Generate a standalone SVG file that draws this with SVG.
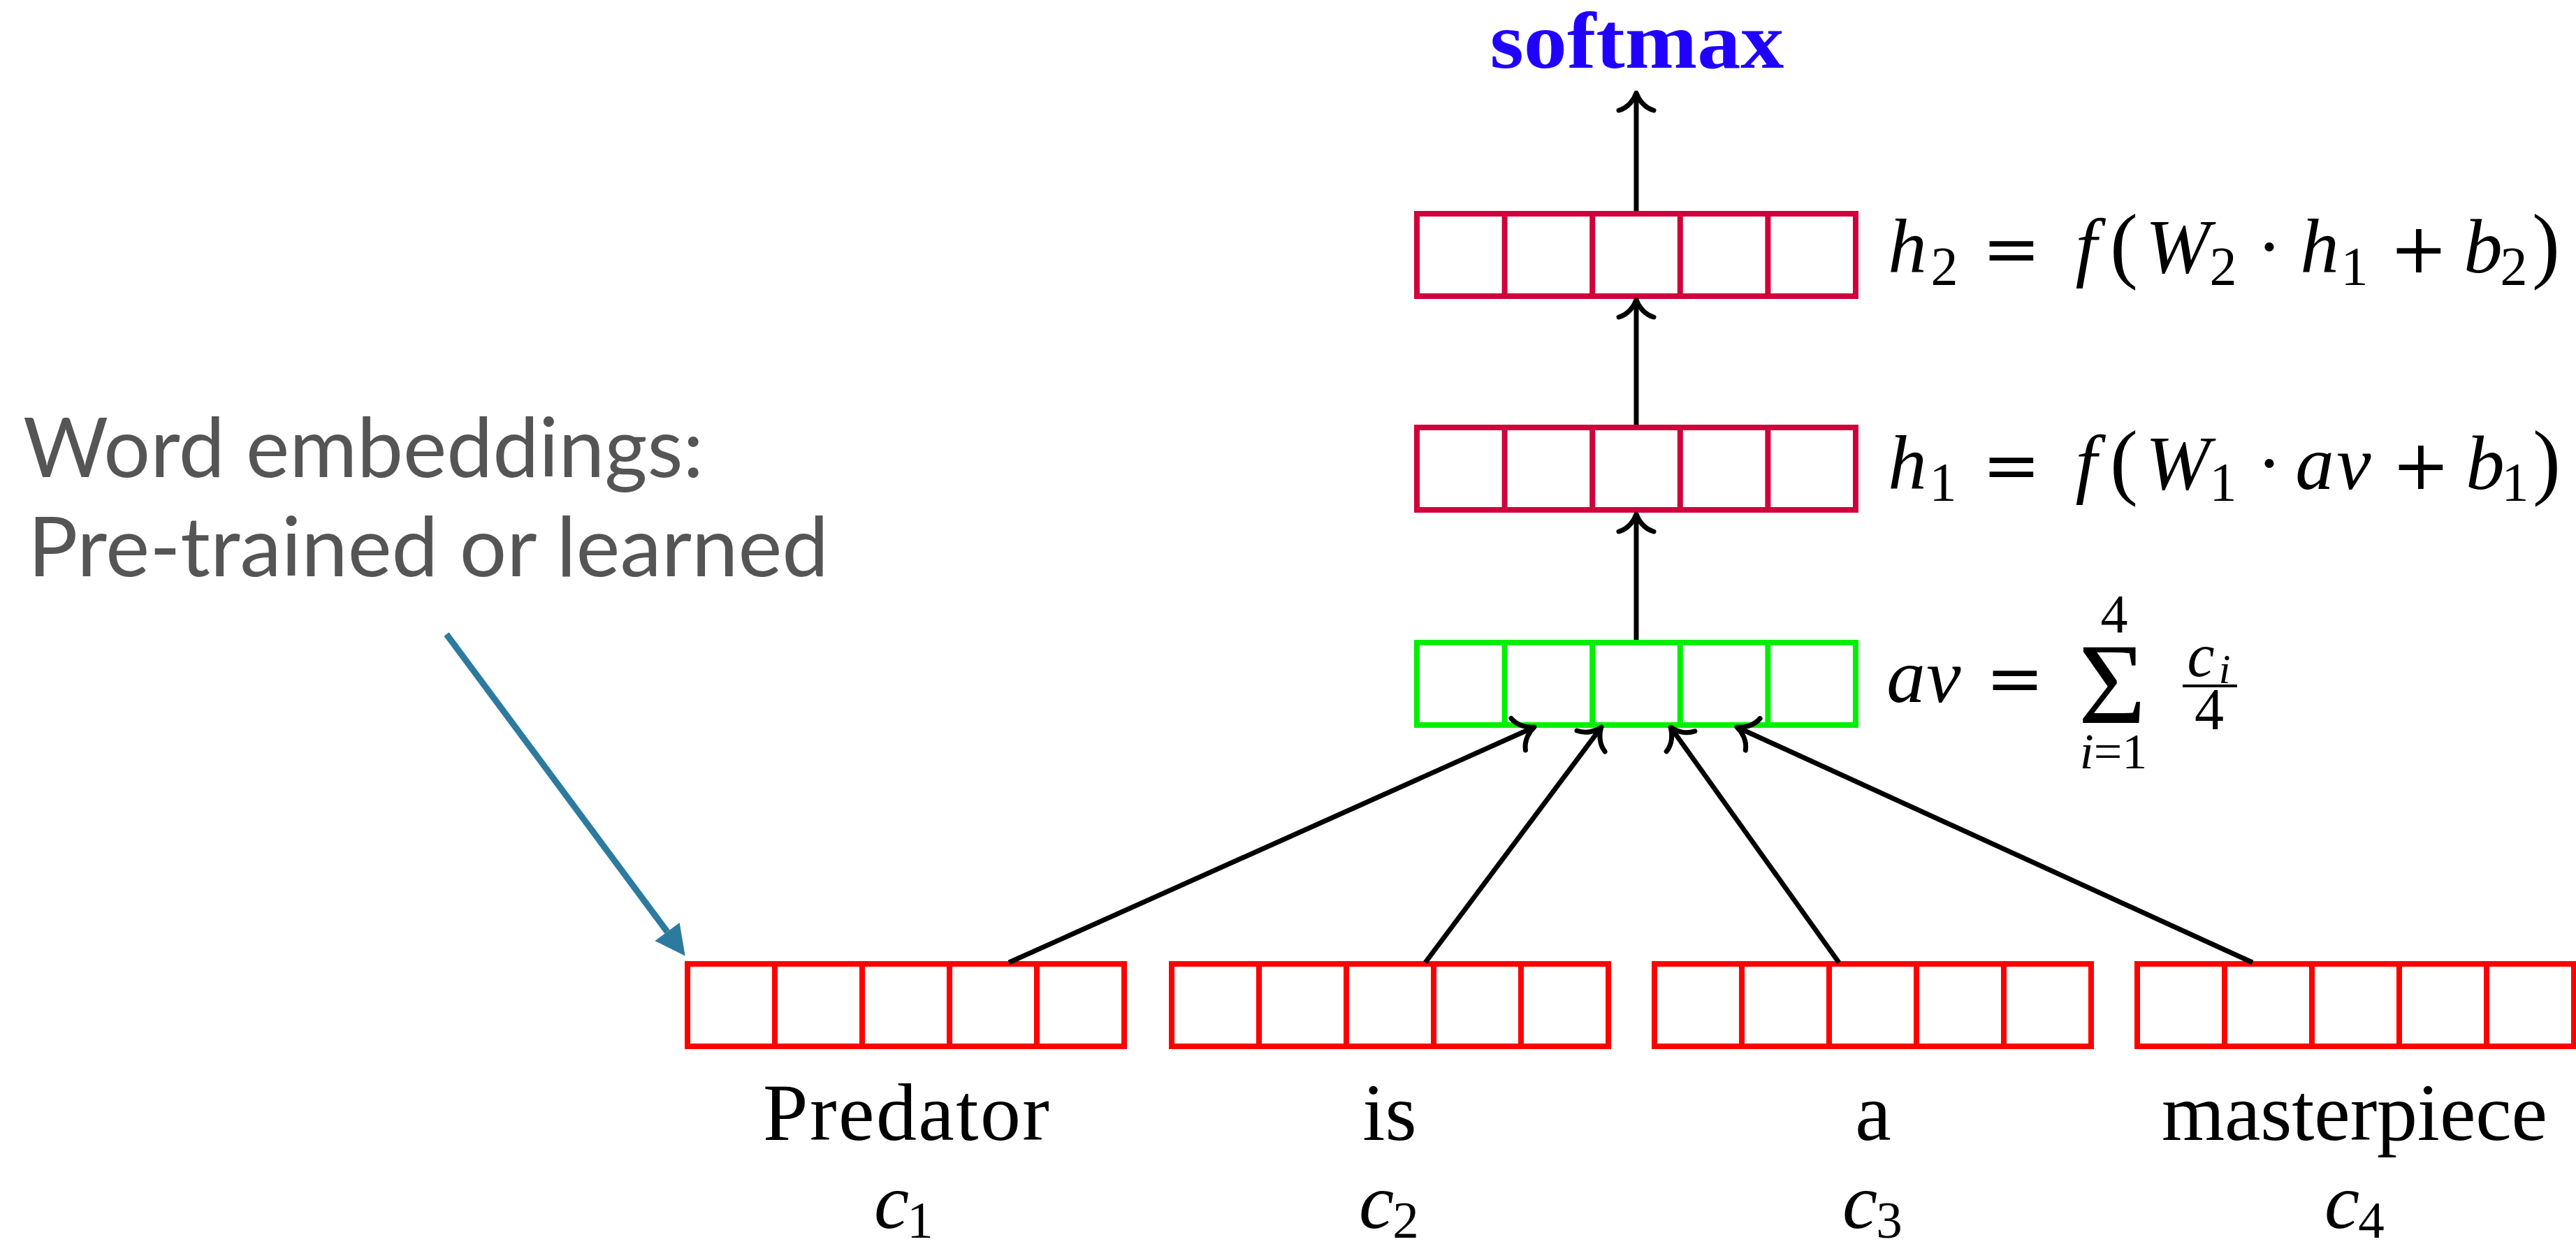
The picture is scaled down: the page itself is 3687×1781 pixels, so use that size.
<svg xmlns="http://www.w3.org/2000/svg" width="3687" height="1781" viewBox="0 0 3687 1781">
  <style>
    .cell { fill: none; stroke-width: 8; }
    .red { stroke: #ff0000; }
    .crim { stroke: #d0003c; }
    .grn { stroke: #00f000; }
    .conn { fill: none; stroke: #000; stroke-width: 7; marker-end: url(#tip); }
    .hint { fill: none; stroke: #2c7b9e; stroke-width: 9; marker-end: url(#ptr); }
    .m { font-family: "Liberation Serif", "DejaVu Serif", serif; font-style: italic; font-size: 111px; fill: #000; text-anchor: middle; }
    .r { font-style: normal; }
    .op { font-family: "DejaVu Serif", "Liberation Serif", serif; font-style: normal; font-size: 100px; }
    .sub { font-style: normal; font-size: 78px; }
    .ssub { font-size: 60px; }
    .word { font-family: "Liberation Serif", "DejaVu Serif", serif; font-size: 116px; fill: #000; text-anchor: middle; }
    .note { font-family: Lato, "Open Sans", "Liberation Sans", sans-serif; font-size: 118px; fill: #555555; }
    .head { font-family: "Liberation Serif", "DejaVu Serif", serif; font-weight: bold; font-size: 114px; fill: #2000ff; text-anchor: middle; }
  </style>
  <defs>
    <!-- curved open arrow tip, point at the path end -->
    <marker id="tip" markerUnits="userSpaceOnUse" viewBox="-34 -34 40 68" markerWidth="40" markerHeight="68" refX="0" refY="0" orient="auto" overflow="visible">
      <path d="M-25,-25 C-21,-11 -9,-3 0,0 C-9,3 -21,11 -25,25" fill="none" stroke="#000" stroke-width="7" stroke-linecap="round" stroke-linejoin="round"/>
    </marker>
    <!-- solid triangle head, base at the path end -->
    <marker id="ptr" markerUnits="userSpaceOnUse" viewBox="-2 -24 48 48" markerWidth="48" markerHeight="48" refX="0" refY="0" orient="auto" overflow="visible">
      <path d="M0,-22 L43,0 L0,22 Z" fill="#2c7b9e"/>
    </marker>
  </defs>

  <!-- output label -->
  <g id="softmax">
    <text class="head" x="2343" y="97" textLength="421" lengthAdjust="spacingAndGlyphs">softmax</text>
  </g>

  <!-- hidden layer 2 -->
  <g id="h2">
    <rect class="cell crim" x="2028" y="306" width="628" height="118"/>
    <path class="cell crim" d="M2153.6 306V424M2279.2 306V424M2404.8 306V424M2530.4 306V424"/>
  </g>
  <g id="h2-eq">
    <text class="m" x="2730" y="390">h</text>
    <text class="m sub" x="2783" y="407">2</text>
    <text class="m op" x="2879" y="390">=</text>
    <text class="m" x="2986" y="390">f</text>
    <text class="m r" x="3040" y="390" style="font-size:120px">(</text>
    <text class="m" x="3117" y="390">W</text>
    <text class="m sub" x="3182" y="407">2</text>
    <text class="m r" x="3248" y="390">·</text>
    <text class="m" x="3320" y="390">h</text>
    <text class="m sub" x="3370" y="407">1</text>
    <text class="m op" x="3462" y="390">+</text>
    <text class="m" x="3554" y="390">b</text>
    <text class="m sub" x="3598" y="407">2</text>
    <text class="m r" x="3644" y="390" style="font-size:120px">)</text>
  </g>

  <!-- hidden layer 1 -->
  <g id="h1">
    <rect class="cell crim" x="2028" y="612" width="628" height="118"/>
    <path class="cell crim" d="M2153.6 612V730M2279.2 612V730M2404.8 612V730M2530.4 612V730"/>
  </g>
  <g id="h1-eq">
    <text class="m" x="2730" y="700">h</text>
    <text class="m sub" x="2781" y="716">1</text>
    <text class="m op" x="2879" y="700">=</text>
    <text class="m" x="2986" y="700">f</text>
    <text class="m r" x="3040" y="700" style="font-size:120px">(</text>
    <text class="m" x="3117" y="700">W</text>
    <text class="m sub" x="3182" y="716">1</text>
    <text class="m r" x="3248" y="700">·</text>
    <text class="m" x="3313" y="700">a</text>
    <text class="m" x="3369" y="700">v</text>
    <text class="m op" x="3465" y="700">+</text>
    <text class="m" x="3557" y="700">b</text>
    <text class="m sub" x="3600" y="716">1</text>
    <text class="m r" x="3645" y="700" style="font-size:120px">)</text>
  </g>

  <!-- averaged embedding -->
  <g id="av">
    <rect class="cell grn" x="2028" y="920" width="628" height="118"/>
    <path class="cell grn" d="M2153.6 920V1038M2279.2 920V1038M2404.8 920V1038M2530.4 920V1038"/>
  </g>
  <g id="av-eq">
    <text class="m" x="2728" y="1005">a</text>
    <text class="m" x="2782" y="1005">v</text>
    <text class="m op" x="2884" y="1005">=</text>
    <text class="m r" x="3023" y="1035" style="font-size:166px">Σ</text>
    <text class="m sub" x="3026" y="905">4</text>
    <text class="m" x="3025" y="1100" style="font-size:72px">i<tspan class="r">=1</tspan></text>
    <text class="m" x="3150" y="968" style="font-size:88px">c</text>
    <text class="m ssub" x="3184" y="978">i</text>
    <path d="M3124 982H3202" stroke="#000" stroke-width="4"/>
    <text class="m sub" x="3162" y="1044" style="font-size:84px">4</text>
  </g>

  <!-- word embeddings -->
  <g id="emb1">
    <rect class="cell red" x="984" y="1380" width="625" height="118"/>
    <path class="cell red" d="M1109 1380V1498M1234 1380V1498M1359 1380V1498M1484 1380V1498"/>
    <text class="word" x="1297" y="1632" textLength="410">Predator</text>
    <text class="m" x="1276" y="1758" style="font-size:113px">c</text>
    <text class="m sub" x="1317" y="1772" style="font-size:75px">1</text>
  </g>
  <g id="emb2">
    <rect class="cell red" x="1677" y="1380" width="625" height="118"/>
    <path class="cell red" d="M1802 1380V1498M1927 1380V1498M2052 1380V1498M2177 1380V1498"/>
    <text class="word" x="1989" y="1632">is</text>
    <text class="m" x="1970" y="1758" style="font-size:113px">c</text>
    <text class="m sub" x="2012" y="1772" style="font-size:75px">2</text>
  </g>
  <g id="emb3">
    <rect class="cell red" x="2368" y="1380" width="625" height="118"/>
    <path class="cell red" d="M2493 1380V1498M2618 1380V1498M2743 1380V1498M2868 1380V1498"/>
    <text class="word" x="2681" y="1632">a</text>
    <text class="m" x="2662" y="1758" style="font-size:113px">c</text>
    <text class="m sub" x="2704" y="1772" style="font-size:75px">3</text>
  </g>
  <g id="emb4">
    <rect class="cell red" x="3059" y="1380" width="625" height="118"/>
    <path class="cell red" d="M3184 1380V1498M3309 1380V1498M3434 1380V1498M3559 1380V1498"/>
    <text class="word" x="3370" y="1632" textLength="552">masterpiece</text>
    <text class="m" x="3352" y="1758" style="font-size:113px">c</text>
    <text class="m sub" x="3394" y="1772" style="font-size:75px">4</text>
  </g>

  <!-- annotation -->
  <g id="note">
    <text class="note" x="33" y="683" textLength="974" lengthAdjust="spacingAndGlyphs">Word embeddings:</text>
    <text class="note" x="40" y="825" textLength="1146" lengthAdjust="spacingAndGlyphs">Pre-trained or learned</text>
  </g>

  <g id="connectors">
    <path class="conn" d="M2342 302V133"/>
    <path class="conn" d="M2342 608V429"/>
    <path class="conn" d="M2342 916V736"/>
    <path class="conn" d="M1444 1378L2196 1041"/>
    <path class="conn" d="M2040 1378L2292 1041"/>
    <path class="conn" d="M2632 1378L2391 1041"/>
    <path class="conn" d="M3224 1378L2486 1041"/>
    <path class="hint" d="M639 908L955 1334"/>
  </g>
</svg>
